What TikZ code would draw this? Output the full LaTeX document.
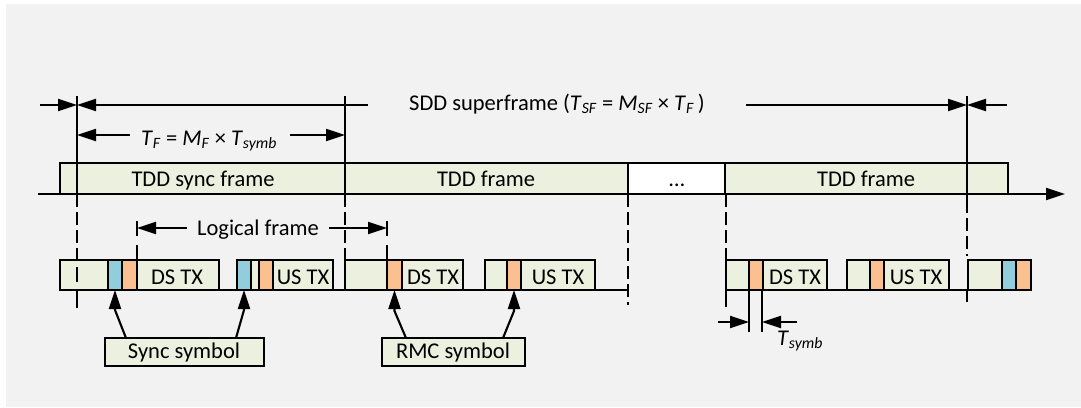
\documentclass[tikz,border=0pt]{standalone}
\usepackage{fontspec}
\setmainfont{Carlito}
\usetikzlibrary{arrows.meta}
\definecolor{bggray}{RGB}{242,242,242}
\definecolor{framegreen}{RGB}{235,241,222}
\definecolor{symblue}{RGB}{146,205,220}
\definecolor{symorange}{RGB}{250,192,144}
\newcommand\vsub[2]{\textit{#1}\textsubscript{\textit{#2}}}
\begin{document}
\begin{tikzpicture}[x=1pt,y=-1pt,
  every node/.style={font=\fontsize{22.5}{26}\selectfont, inner sep=0pt, outer sep=0pt},
  ln/.style={line width=2.1pt},
  dsh/.style={line width=2.1pt, dash pattern=on 13pt off 5pt},
  tip/.style={-{Triangle[length=19pt,width=12pt]}},
  ptip/.style={{Triangle[length=19pt,width=12pt]}-},
  blk/.style={draw, line width=2.1pt, fill=framegreen, anchor=north west, minimum height=30pt},
  frm/.style={draw, line width=2.1pt, fill=framegreen, anchor=north west, minimum height=31pt},
  callout/.style={draw, line width=2.1pt, fill=framegreen, anchor=north west, minimum height=28pt},
  lbl/.style={anchor=base}
]
\useasboundingbox (0,0) rectangle (1081,407);
\fill[white] (0,0) rectangle (1081,407);
\fill[bggray] (6,4) rectangle (1081,407);

% ---- top frame strip ----
\draw[ln, -{Triangle[length=19pt,width=12pt]}] (38,194) -- (1065,194);
\node[frm, minimum width=285pt] (f1) at (60,163) {};
\node[frm, minimum width=283pt] (f2) at (345,163) {};
\node[frm, fill=white, minimum width=97pt] (f3) at (628,163) {};
\node[frm, minimum width=283pt] (f4) at (725,163) {};
\node[lbl] (t1) at (203,186) {TDD sync frame};
\node[lbl] (t2) at (486,186) {TDD frame};
\node[lbl] (t3) at (677,186) {\dots};
\node[lbl] (t4) at (866,186) {TDD frame};

% ---- lower row baselines ----
\coordinate (bl1) at (60,290);
\coordinate (bl2) at (628,290);
\coordinate (bl3) at (726,290);
\coordinate (bl4) at (968,290);
\draw[ln] (bl1) -- (bl2);
\draw[ln] (bl3) -- (bl4);

% ---- vertical guide lines ----
\draw[ln] (77,96) -- (77,194);
\draw[ln] (345,96) -- (345,194);
\draw[ln] (967,96) -- (967,200);
\draw[dsh] (77,194) -- (77,308);
\draw[dsh] (345,194) -- (345,260);
\draw[dsh] (628,194) -- (628,305);
\draw[dsh] (726,194) -- (726,260);
\draw[dsh] (967,200) -- (967,256);

% ---- lower row boxes ----
\node[blk, minimum width=159pt] (b1) at (60,260) {};
\node[blk, fill=symblue, minimum width=14pt] (s1) at (108,260) {};
\node[blk, fill=symorange, minimum width=15pt] (o1) at (122,260) {};
\node[lbl] (d1) at (177,284) {DS TX};

\node[blk, minimum width=96pt] (b2) at (237,260) {};
\node[blk, fill=symblue, minimum width=14pt] (s2) at (237,260) {};
\node[blk, fill=symorange, minimum width=14pt] (o2) at (259,260) {};
\node[lbl] (u2) at (303,284) {US TX};

\node[blk, minimum width=118pt] (b3) at (345,260) {};
\node[blk, fill=symorange, minimum width=15pt] (o3) at (387,260) {};
\node[lbl] (d3) at (433,284) {DS TX};

\node[blk, minimum width=110pt] (b4) at (485,260) {};
\node[blk, fill=symorange, minimum width=14pt] (o4) at (507,260) {};
\node[lbl] (u4) at (558,284) {US TX};

\node[blk, minimum width=101pt] (b5) at (726,260) {};
\node[blk, fill=symorange, minimum width=14pt] (o5) at (749,260) {};
\node[lbl] (d5) at (795,284) {DS TX};

\node[blk, minimum width=102pt] (b6) at (847,260) {};
\node[blk, fill=symorange, minimum width=14pt] (o6) at (870,260) {};
\node[lbl] (u6) at (916,284) {US TX};

\node[blk, minimum width=63pt] (b7) at (968,260) {};
\node[blk, fill=symblue, minimum width=14pt] (s7) at (1002,260) {};
\node[blk, fill=symorange, minimum width=15pt] (o7) at (1016,260) {};

% dashed line marks crossing boxes
\draw[ln] (77,267) -- (77,282);
\draw[ln] (77,290) -- (77,308);
\draw[ln] (726,290) -- (726,307);
\draw[ln] (967,290) -- (967,302);

% ---- SDD superframe dimension ----
\coordinate (sf0) at (40,105);
\coordinate (sfa) at (77,105);
\coordinate (sfb) at (368,105);
\coordinate (sfc) at (746,105);
\coordinate (sfd) at (967,105);
\coordinate (sfe) at (1007,105);
\draw[ln, tip] (sf0) -- (sfa);
\draw[ln, ptip] (sfa) -- (sfb);
\draw[ln, tip] (sfc) -- (sfd);
\draw[ln, tip] (sfe) -- (sfd);
\node[lbl] (sdd) at (557,110) {SDD superframe (\vsub{T}{SF} = \vsub{M}{SF} × \vsub{T}{F}\,)};

% ---- T_F dimension ----
\coordinate (tfa) at (77,135);
\coordinate (tfb) at (130,135);
\coordinate (tfc) at (290,135);
\coordinate (tfd) at (345,135);
\draw[ln, ptip] (tfa) -- (tfb);
\draw[ln, tip] (tfc) -- (tfd);
\node[lbl] (tf) at (209,145) {\vsub{T}{F} = \vsub{M}{F} × \vsub{T}{symb}};

% ---- Logical frame dimension ----
\draw[ln] (137,221) -- (137,236);
\draw[ln] (137,245) -- (137,260);
\draw[ln] (387,221) -- (387,236);
\draw[ln] (387,245) -- (387,260);
\coordinate (lfa) at (137,228);
\coordinate (lfb) at (187,228);
\coordinate (lfc) at (329,228);
\coordinate (lfd) at (387,228);
\draw[ln, ptip] (lfa) -- (lfb);
\draw[ln, tip] (lfc) -- (lfd);
\node[lbl] (lf) at (258,235) {Logical frame};

% ---- T_symb dimension ----
\draw[ln] (749,290) -- (749,332);
\draw[ln] (762,290) -- (762,332);
\coordinate (tsa) at (718,322);
\coordinate (tsb) at (749,322);
\coordinate (tsc) at (797,322);
\coordinate (tsd) at (762,322);
\draw[ln, tip] (tsa) -- (tsb);
\draw[ln, tip] (tsc) -- (tsd);
\node[lbl] (ts) at (800,345) {\vsub{T}{symb}};

% ---- callouts ----
\node[callout, minimum width=159pt] (sync) at (105,338) {};
\node[lbl] at (184,358) {Sync symbol};
\node[callout, minimum width=143pt] (rmc) at (382,338) {};
\node[lbl] at (453,358) {RMC symbol};

\draw[ln, tip] ([xshift=21pt]sync.north west) -- ([yshift=-20pt]s1.south) -- (s1.south);
\draw[ln, tip] ([xshift=131pt]sync.north west) -- ([yshift=-20pt]s2.south) -- (s2.south);
\draw[ln, tip] ([xshift=24pt]rmc.north west) -- ([yshift=-21pt]o3.south) -- (o3.south);
\draw[ln, tip] ([xshift=121pt]rmc.north west) -- ([yshift=-21pt]o4.south) -- (o4.south);
\end{tikzpicture}
\end{document}
